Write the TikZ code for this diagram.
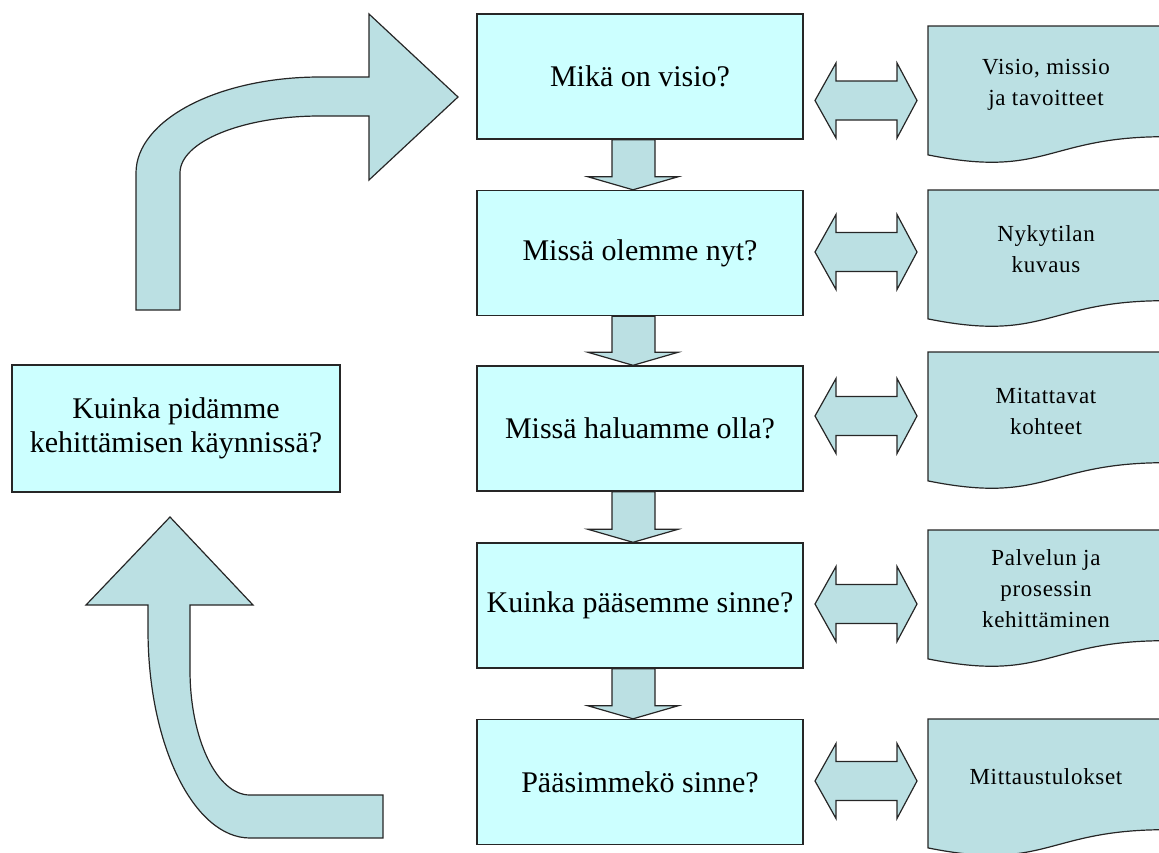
\documentclass[tikz,border=0pt]{standalone}
\usepackage{fontspec}
\setmainfont{Liberation Serif}
\newfontfamily\docfont[LetterSpace=3]{Liberation Serif}
\usetikzlibrary{calc}
\definecolor{boxfill}{HTML}{CCFFFF}
\definecolor{shapefill}{HTML}{BBE0E3}
\definecolor{edge}{HTML}{262626}
\pgfdeclarelayer{bg}
\pgfsetlayers{bg,main}

\begin{document}
\begin{tikzpicture}[x=1pt,y=-1pt,
  question/.style={draw=edge,line width=1.4pt,fill=boxfill,
    minimum width=326pt,minimum height=125pt,inner sep=0pt,align=center,
    font=\fontsize{30}{34}\selectfont},
  doclabel/.style={align=center,font=\docfont\fontsize{23}{31}\selectfont},
  blockarrow/.style={draw=edge,line width=1.2pt,fill=shapefill,line join=miter},
  docshape/.pic={
    \path[blockarrow] (0,0) -- (237,0) -- (237,110.7)
      .. controls (118.5,110.7) and (118.5,152.8) .. (0,128.9) -- cycle;},
  lrarrow/.pic={
    \path[blockarrow] (-51,0) -- (-30,-37.5) -- (-30,-19.5) -- (31,-19.5)
      -- (31,-37.5) -- (51,0) -- (31,37.5) -- (31,19.5) -- (-30,19.5)
      -- (-30,37.5) -- cycle;}
]
\useasboundingbox (0,0) rectangle (1159,852);
\clip (0,0) rectangle (1159,852);

% question boxes of the main column
\node[question] (b1) at (640,76.5)  {Mikä on visio?};
\node[question] (b2) at (640,253)   {Missä olemme nyt?};
\node[question] (b3) at (640,428.5) {Missä haluamme olla?};
\node[question] (b4) at (640,605.5) {Kuinka pääsemme sinne?};
\node[question] (b5) at (640,782)   {Pääsimmekö sinne?};

% box on the left
\node[question,minimum width=328pt,minimum height=127pt] (lb) at (176,428.5)
  {Kuinka pidämme\\kehittämisen käynnissä?};

% block arrows pointing down between the questions
\begin{pgfonlayer}{bg}
\foreach \a/\b in {b1/b2,b2/b3,b3/b4,b4/b5}
  \path[blockarrow] let \p1=(\a.south), \p2=(\b.north) in
    (\x1-28pt,\y1) -- (\x1-28pt,\y2+13pt) -- (\x1-52pt,\y2+13pt)
    -- (\x1-7pt,\y2) -- (\x1+38pt,\y2+13pt) -- (\x1+15pt,\y2+13pt)
    -- (\x1+15pt,\y1) -- cycle;
\end{pgfonlayer}

% document shapes on the right
\pic at (928,26)  {docshape};
\pic at (928,190) {docshape};
\pic at (928,352) {docshape};
\pic at (928,530) {docshape};
\pic at (928,719) {docshape};
\node[doclabel] (d1) at (1046,85)  {Visio, missio\\ja tavoitteet};
\node[doclabel] (d2) at (1046,249) {Nykytilan\\kuvaus};
\node[doclabel] (d3) at (1046,411) {Mitattavat\\kohteet};
\node[doclabel] (d4) at (1046,589) {Palvelun ja\\prosessin\\kehittäminen};
\node[doclabel] (d5) at (1046,777) {Mittaustulokset};

% two-headed arrows between questions and documents
\pic at (866,100.5) {lrarrow};
\pic at (866,252)   {lrarrow};
\pic at (866,416)   {lrarrow};
\pic at (866,604)   {lrarrow};
\pic at (866,781)   {lrarrow};

% bent arrow going up and right to the first question
\path[blockarrow] (136,310) -- (136,173)
  .. controls (136,120) and (218,77) .. (320,77) -- (369,77) -- (369,14)
  -- (458,97) -- (369,180) -- (369,116) -- (320,116)
  .. controls (243,116) and (180,141.5) .. (180,173) -- (180,310) -- cycle;

% bent arrow coming from the last question up to the left box
\path[blockarrow] (148,605) -- (86,605) -- (170,517) -- (253,605) -- (190,605)
  -- (190,670) .. controls (190,739) and (217,795) .. (250,795) -- (383,795)
  -- (383,838) -- (250,838) .. controls (194,838) and (148,745) .. (148,630)
  -- cycle;
\end{tikzpicture}
\end{document}
